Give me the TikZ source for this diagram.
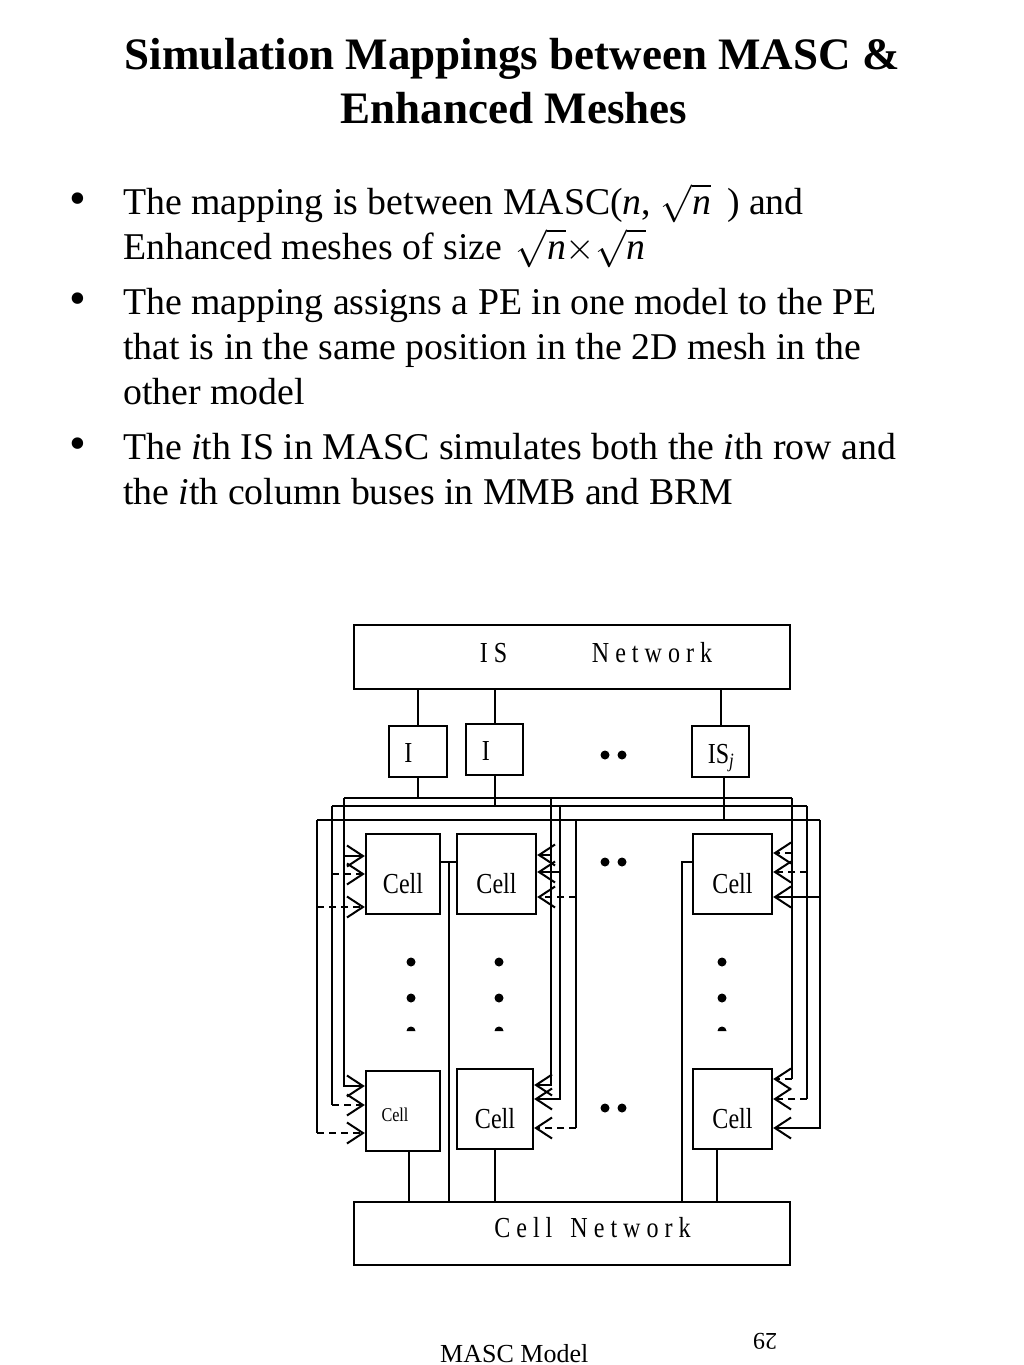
\RequirePackage{fix-cm}
\documentclass[tikz,border=0pt]{standalone}
\usepackage{graphicx}
\usepackage{fontspec}
\setmainfont{Liberation Serif}
\usetikzlibrary{arrows.meta}
\newcommand\dsq[1]{\scalebox{0.83}[1]{#1}}
\newcommand\rtn{\sqrt{\textit{n}}}
\begin{document}
\begin{tikzpicture}[x=1pt,y=-1pt,
  box/.style={draw,line width=2.4pt,inner sep=0pt},
  wire/.style={line width=2pt},
  dwire/.style={line width=2pt,dash pattern=on 7pt off 5pt},
  tip/.style={-{Straight Barb[length=16pt,width=21pt,line width=2pt]}},
  dlabel/.style={inner sep=0pt,anchor=base,font=\fontsize{29}{29}\selectfont},
  slabel/.style={inner sep=0pt,anchor=base,font=\fontsize{19.5}{19.5}\selectfont},
  title/.style={inner sep=0pt,anchor=base,font=\fontsize{45}{53}\selectfont\bfseries},
  body/.style={inner sep=0pt,anchor=base west,font=\fontsize{37.8}{45}\selectfont},
  bul/.style={inner sep=0pt,anchor=base,font=\fontsize{48}{48}\selectfont},
  dot/.style={fill=black}]
\fill[white] (0,0) rectangle (1024,1365);
\useasboundingbox (0,0) rectangle (1024,1365);

% title
\node[title] (t1) at (512,69) {Simulation Mappings between MASC \&};
\node[title] (t2) at (514,123) {Enhanced Meshes};

% bullets
\node[bul] (u1) at (78,214) {•};
\node[body] (l1) at (123,214) {The mapping is between MASC(\textit{n}, \smash{$\rtn$}\hspace{16pt}) and};
\node[body] (l2) at (123,259) {Enhanced meshes of size \hspace{4pt}\smash{$\rtn{\times}\rtn$}};
\node[bul] (u2) at (78,314) {•};
\node[body] (l3) at (123,314) {The mapping assigns a PE in one model to the PE};
\node[body] (l4) at (123,359) {that is in the same position in the 2D mesh in the};
\node[body] (l5) at (123,404) {other model};
\node[bul] (u3) at (78,459) {•};
\node[body] (l6) at (123,459) {The \textit{i}th IS in MASC simulates both the \textit{i}th row and};
\node[body] (l7) at (123,504) {the \textit{i}th column buses in MMB and BRM};

% boxes
\node[box,minimum width=436pt,minimum height=64pt] (isnet) at (572,657) {};
\node[dlabel] (isnetl) at (596,662) {\dsq{I S\hspace{102pt}N e t w o r k}};
\node[box,minimum width=58pt,minimum height=51pt] (i1) at (418,751.5) {};
\node[dlabel] (i1l) at (408.5,762) {\dsq{I}};
\node[box,minimum width=57pt,minimum height=51pt] (i2) at (494.5,749.5) {};
\node[dlabel] (i2l) at (486,760) {\dsq{I}};
\node[box,minimum width=57pt,minimum height=51pt] (isj) at (720.5,751.5) {};
\node[dlabel] (isjl) at (721,763) {\dsq{IS\textsubscript{\textit{j}}}};

\node[box,minimum width=74pt,minimum height=80pt] (c11) at (403,874) {};
\node[dlabel] (c11l) at (403,893) {\dsq{Cell}};
\node[box,minimum width=79pt,minimum height=80pt] (c12) at (496.5,874) {};
\node[dlabel] (c12l) at (496.5,893) {\dsq{Cell}};
\node[box,minimum width=79pt,minimum height=80pt] (c1j) at (732.5,874) {};
\node[dlabel] (c1jl) at (732.5,893) {\dsq{Cell}};
\node[box,minimum width=74pt,minimum height=80pt] (cn1) at (403,1111) {};
\node[slabel] (cn1l) at (395,1121) {\dsq{Cell}};
\node[box,minimum width=76pt,minimum height=80pt] (cn2) at (495,1109) {};
\node[dlabel] (cn2l) at (495,1128) {\dsq{Cell}};
\node[box,minimum width=79pt,minimum height=80pt] (cnj) at (732.5,1109) {};
\node[dlabel] (cnjl) at (732.5,1128) {\dsq{Cell}};

\node[box,minimum width=436pt,minimum height=63pt] (cellnet) at (572,1233.5) {};
\node[dlabel] (cellnetl) at (592.5,1237) {\dsq{C e l l\hspace{21.7pt}N e t w o r k}};

% dots
\fill[dot] (605,755) circle[radius=4.5] (622,755) circle[radius=4.5];
\fill[dot] (605,862) circle[radius=4.5] (622,862) circle[radius=4.5];
\fill[dot] (605,1108) circle[radius=4.5] (622,1108) circle[radius=4.5];
\foreach \x in {411,499,722}{
  \fill[dot] (\x,962) circle[radius=4.5] (\x,998) circle[radius=4.5];
  \fill[dot] (\x-4.5,1031) arc[start angle=180,end angle=360,radius=4.5] -- cycle;
}

% bus coordinates
\coordinate (b1L) at (344,798); \coordinate (b1M) at (551,798); \coordinate (b1R) at (792,798);
\coordinate (b2L) at (332,806); \coordinate (b2M) at (560,806); \coordinate (b2R) at (807,806);
\coordinate (b3L) at (317,820); \coordinate (b3M) at (576,820); \coordinate (b3R) at (820,820);

% IS network to IS units to buses
\draw[wire] (i1.north) -- (i1.north |- isnet.south);
\draw[wire] (i2.north) -- (i2.north |- isnet.south);
\draw[wire] (isj.north) -- (isj.north |- isnet.south);
\draw[wire] (i1.south) -- (i1.south |- b1L);
\draw[wire] (i2.south) -- (i2.south |- b2L);
\draw[wire] ([xshift=3pt]isj.south) -- ([xshift=3pt]isj.south |- b3L);

\draw[wire] (b1L) -- (b1R);
\draw[wire] (b2L) -- (b2R);
\draw[wire] (b3L) -- (b3R);

% column 1 (left side)
\draw[wire,tip] (b1L) |- (cn1.west |- 0,1086);
\draw[wire,tip] (b1L |- 0,856) -- (c11.west |- 0,856);
\draw[wire] (b2L) -- (b2L |- 0,1105);
\draw[dwire,tip] (b2L |- 0,874) -- (c11.west |- 0,874);
\draw[dwire,tip] (b2L |- 0,1105) -- (cn1.west |- 0,1105);
\draw[wire] (b3L) -- (b3L |- 0,1133);
\draw[dwire,tip] (b3L |- 0,907) -- (c11.west |- 0,907);
\draw[dwire,tip] (b3L |- 0,1133) -- (cn1.west |- 0,1133);

% column 2 (right side)
\draw[wire,tip] (b1M) |- (cn2.east |- 0,1085);
\draw[wire,tip] (b1M |- 0,855) -- (c12.east |- 0,855);
\draw[wire,tip] (b2M) |- (cn2.east |- 0,1099);
\draw[wire,tip] (b2M |- 0,872) -- (c12.east |- 0,872);
\draw[wire] (b3M) -- (b3M |- 0,1128);
\draw[dwire,tip] (b3M |- 0,897) -- (c12.east |- 0,897);
\draw[dwire,tip] (b3M |- 0,1128) -- (cn2.east |- 0,1128);

% column j (right side)
\draw[wire] (b1R) -- (b1R |- 0,1079);
\draw[dwire,tip] (b1R |- 0,853) -- (c1j.east |- 0,853);
\draw[dwire,tip] (b1R |- 0,1079) -- (cnj.east |- 0,1079);
\draw[wire] (b2R) -- (b2R |- 0,1099);
\draw[dwire,tip] (b2R |- 0,872) -- (c1j.east |- 0,872);
\draw[dwire,tip] (b2R |- 0,1099) -- (cnj.east |- 0,1099);
\draw[wire,tip] (b3R) |- (cnj.east |- 0,1128);
\draw[wire,tip] (b3R |- 0,897) -- (c1j.east |- 0,897);

% cells to cell network
\draw[wire] ([xshift=6pt]cn1.south) -- ([xshift=6pt]cn1.south |- cellnet.north);
\draw[wire] (cn2.south) -- (cn2.south |- cellnet.north);
\draw[wire] ([xshift=-15.5pt]cnj.south) -- ([xshift=-15.5pt]cnj.south |- cellnet.north);
\coordinate (j1) at (449,862);
\draw[wire] (c11.east |- j1) -- (c12.west |- j1);
\draw[wire] (j1) -- (j1 |- cellnet.north);
\coordinate (j2) at (682,862);
\draw[wire] (c1j.west |- j2) -- (j2) -- (j2 |- cellnet.north);

% footer
\node[inner sep=0pt,anchor=base west,font=\fontsize{26}{26}\selectfont] (foot) at (440,1362) {MASC Model};
\node[inner sep=0pt,rotate=180,font=\fontsize{24}{24}\selectfont] (pg) at (765,1341) {29};
\end{tikzpicture}
\end{document}
